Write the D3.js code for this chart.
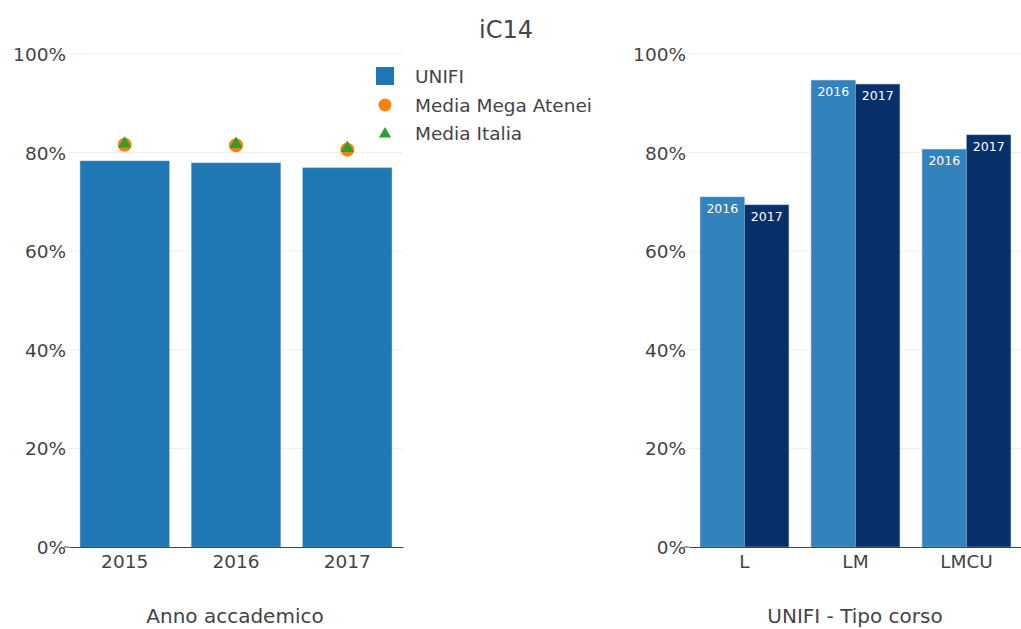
<!DOCTYPE html>
<html>
<head>
<meta charset="utf-8">
<script src="https://cdn.jsdelivr.net/npm/d3@7"></script>
<style>
  body { margin: 0; background: #fff; }
  text { font-family: "DejaVu Sans", Verdana, sans-serif; fill: #444; }
</style>
</head>
<body>
<div class="chart"></div>
<script>
var years = ["2015", "2016", "2017"];
var unifi = [78.3, 77.9, 76.9];
var megaAtenei = [81.6, 81.5, 80.6];
var italia = [81.8, 81.7, 80.9];

var tipi = ["L", "LM", "LMCU"];
var anni = ["2016", "2017"];
var tipo2016 = [71.0, 94.7, 80.7];
var tipo2017 = [69.4, 93.9, 83.6];

var yTicks = [0, 20, 40, 60, 80, 100];

var width = 1021;
var height = 629;

var svg = d3.select(".chart")
            .append("svg")
              .attr("width", width)
              .attr("height", height);

var y = d3.scaleLinear().domain([0, 100]).range([547, 54]);

// title
svg.append("text")
   .attr("x", 506)
   .attr("y", 38)
   .attr("text-anchor", "middle")
   .attr("font-size", "24px")
   .text("iC14");

function drawPanel(x0, x1, title, titleX) {
  var g = svg.append("g");
  // gridlines
  g.selectAll("line.grid")
   .data(yTicks.slice(1))
   .enter()
   .append("line")
    .attr("x1", x0)
    .attr("x2", x1)
    .attr("y1", function(d) { return y(d); })
    .attr("y2", function(d) { return y(d); })
    .attr("stroke", "#eee")
    .attr("stroke-width", 1);
  // tick labels
  g.selectAll("text.ytick")
   .data(yTicks)
   .enter()
   .append("text")
    .attr("x", x0 - 3)
    .attr("y", function(d) { return y(d) + 7; })
    .attr("text-anchor", "end")
    .attr("font-size", "18.5px")
    .text(function(d) { return d + "%"; });
  // x axis title
  svg.append("text")
     .attr("x", titleX)
     .attr("y", 623)
     .attr("text-anchor", "middle")
     .attr("font-size", "20px")
     .text(title);
  return g;
}

function styleAxis(a) {
  a.select(".domain").attr("stroke", "#444");
  a.selectAll("text")
   .attr("font-size", "18.5px")
   .attr("font-family", "DejaVu Sans")
   .attr("fill", "#444")
   .attr("dy", "0.85em");
}

// ---- left panel ----
var xl = d3.scaleBand().domain(years).range([69, 403]).paddingInner(0.2).paddingOuter(0.1);
var gl = drawPanel(69, 403, "Anno accademico", 235);

gl.selectAll("rect")
  .data(unifi)
  .enter()
  .append("rect")
   .attr("x", function(d, i) { return xl(years[i]); })
   .attr("y", function(d) { return y(d); })
   .attr("width", xl.bandwidth())
   .attr("height", function(d) { return y(0) - y(d); })
   .attr("fill", "#1f77b4")
   .attr("stroke", "#5a9ac8")
   .attr("stroke-width", 0.5);

gl.selectAll("circle")
  .data(megaAtenei)
  .enter()
  .append("circle")
   .attr("cx", function(d, i) { return xl(years[i]) + xl.bandwidth() / 2; })
   .attr("cy", function(d) { return y(d); })
   .attr("r", 7)
   .attr("fill", "#ff7f0e");

var tri = d3.symbol().type(d3.symbolTriangle).size(75);
gl.selectAll("path.tri")
  .data(italia)
  .enter()
  .append("path")
   .attr("class", "tri")
   .attr("d", tri)
   .attr("transform", function(d, i) {
     return "translate(" + (xl(years[i]) + xl.bandwidth() / 2) + "," + y(d) + ")";
   })
   .attr("fill", "#2ca02c");

gl.append("g")
  .attr("transform", "translate(0,547)")
  .call(d3.axisBottom(xl).tickSize(0).tickPadding(5))
  .call(styleAxis);
gl.append("line").attr("x1", 64).attr("x2", 69).attr("y1", 547).attr("y2", 547).attr("stroke", "#444");

// legend
var legendItems = ["UNIFI", "Media Mega Atenei", "Media Italia"];
var legend = svg.append("g");
legend.selectAll("text")
  .data(legendItems)
  .enter()
  .append("text")
   .attr("x", 415)
   .attr("y", function(d, i) { return 83 + i * 28.5; })
   .attr("font-size", "18.5px")
   .text(function(d) { return d; });
legend.append("rect").attr("x", 376).attr("y", 67).attr("width", 18).attr("height", 18).attr("fill", "#1f77b4");
legend.append("circle").attr("cx", 385).attr("cy", 105).attr("r", 6.5).attr("fill", "#ff7f0e");
legend.append("path").attr("d", d3.symbol().type(d3.symbolTriangle).size(65)).attr("transform", "translate(385,134)").attr("fill", "#2ca02c");

// ---- right panel ----
var xr = d3.scaleBand().domain(tipi).range([689, 1022]).paddingInner(0.2).paddingOuter(0.1);
var xs = d3.scaleBand().domain(anni).range([0, xr.bandwidth()]);
var colors = { "2016": "#3182bd", "2017": "#08306b" };
var gr = drawPanel(689, 1022, "UNIFI - Tipo corso", 855);

var rows = [];
tipi.forEach(function(t, i) {
  rows.push({ tipo: t, anno: "2016", v: tipo2016[i] });
  rows.push({ tipo: t, anno: "2017", v: tipo2017[i] });
});

gr.selectAll("rect")
  .data(rows)
  .enter()
  .append("rect")
   .attr("x", function(d) { return xr(d.tipo) + xs(d.anno); })
   .attr("y", function(d) { return y(d.v); })
   .attr("width", xs.bandwidth())
   .attr("height", function(d) { return y(0) - y(d.v); })
   .attr("fill", function(d) { return colors[d.anno]; })
   .attr("stroke", "#8fa7c4")
   .attr("stroke-width", 0.5);

gr.selectAll("text.lab")
  .data(rows)
  .enter()
  .append("text")
   .attr("x", function(d) { return xr(d.tipo) + xs(d.anno) + xs.bandwidth() / 2; })
   .attr("y", function(d) { return y(d.v) + 16; })
   .attr("text-anchor", "middle")
   .attr("font-size", "12.5px")
   .style("fill", "#fff")
   .text(function(d) { return d.anno; });

gr.append("g")
  .attr("transform", "translate(0,547)")
  .call(d3.axisBottom(xr).tickSize(0).tickPadding(5))
  .call(styleAxis);
gr.append("line").attr("x1", 684).attr("x2", 689).attr("y1", 547).attr("y2", 547).attr("stroke", "#444");
</script>
</body>
</html>
